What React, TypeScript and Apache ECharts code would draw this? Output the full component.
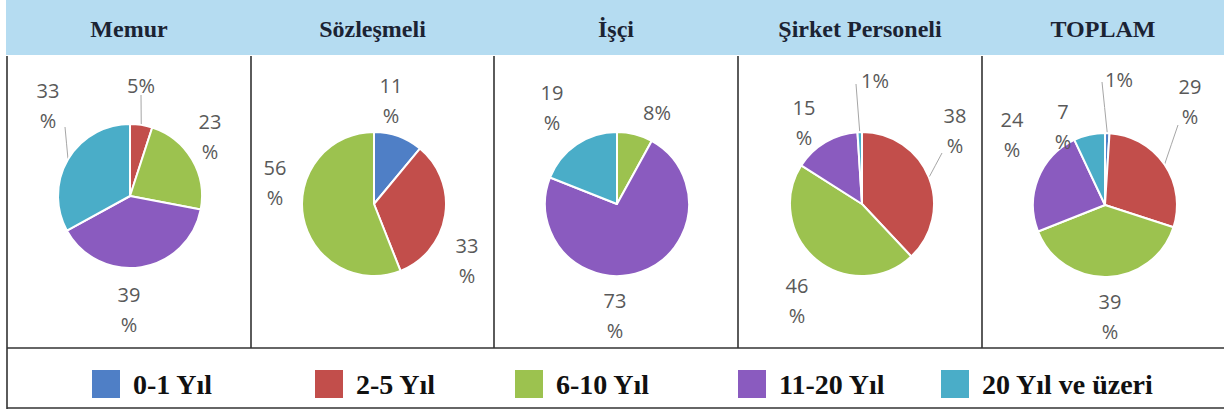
import React, { useEffect, useRef } from 'react';
import * as echarts from 'echarts';

// ---- data ----
const CATEGORIES = ['0-1 Yıl', '2-5 Yıl', '6-10 Yıl', '11-20 Yıl', '20 Yıl ve üzeri'];
const GROUPS = ['Memur', 'Sözleşmeli', 'İşçi', 'Şirket Personeli', 'TOPLAM'];
const MEMUR = [0, 5, 23, 39, 33];
const SOZLESMELI = [11, 33, 56, 0, 0];
const ISCI = [0, 0, 8, 73, 19];
const SIRKET = [0, 38, 46, 15, 1];
const TOPLAM = [1, 29, 39, 24, 7];
const VALUES = [MEMUR, SOZLESMELI, ISCI, SIRKET, TOPLAM];

// ---- styles / layout ----
const COLORS = ['#4f7fc6', '#c24e4b', '#9cc24f', '#8a5bbf', '#4aadc8'];
const CELL_EDGES = [7, 251, 494, 738, 982, 1224];
const PIE_CENTERS: [number, number][] = [[130, 196], [374, 204], [617, 204], [862, 204], [1105, 205]];
const PIE_RADIUS = 72;
const LEGEND_LEFT = [87, 310, 510, 733, 936];

type Place = { dx: number; dy: number; wrap: boolean; lead?: [number, number] } | null;
const LABEL_PLACES: Place[][] = [
  [null, { dx: 11, dy: -111, wrap: false, lead: [11, -101] }, { dx: 80, dy: -60, wrap: true }, { dx: -1, dy: 113, wrap: true }, { dx: -82, dy: -91, wrap: true, lead: [-65, -69] }],
  [{ dx: 17, dy: -104, wrap: true }, { dx: 93, dy: 56, wrap: true }, { dx: -99, dy: -22, wrap: true }, null, null],
  [null, null, { dx: 40, dy: -92, wrap: false }, { dx: -2, dy: 111, wrap: true }, { dx: -65, dy: -97, wrap: true }],
  [null, { dx: 93, dy: -74, wrap: true, lead: [80, -51] }, { dx: -65, dy: 96, wrap: true }, { dx: -58, dy: -82, wrap: true }, { dx: 13, dy: -124, wrap: false, lead: [-6, -120] }],
  [{ dx: 14, dy: -126, wrap: false, lead: [-3, -123] }, { dx: 85, dy: -104, wrap: true, lead: [73, -80] }, { dx: 5, dy: 111, wrap: true }, { dx: -93, dy: -71, wrap: true }, { dx: -42, dy: -79, wrap: true }],
];

const BORDER = '#333333';
const LABEL_FONT = 'Open Sans';
const SERIF = 'Liberation Serif';

function midAngle(vals: number[], cat: number): number {
  const total = vals.reduce((a, b) => a + b, 0);
  let before = 0;
  for (let i = 0; i < cat; i++) before += vals[i];
  return ((before + vals[cat] / 2) / total) * Math.PI * 2;
}

export default function App() {
  const ref = useRef<HTMLDivElement>(null);
  useEffect(() => {
    if (!ref.current) return;
    const chart = echarts.init(ref.current, undefined, { renderer: 'svg' });

    const series = VALUES.map((vals, s) => {
      const catIdx: number[] = [];
      const data: any[] = [];
      vals.forEach((v, c) => {
        if (v <= 0) return;
        catIdx.push(c);
        const pl = LABEL_PLACES[s][c];
        data.push({
          name: CATEGORIES[c],
          value: v,
          itemStyle: { color: COLORS[c] },
          labelLine: { show: !!(pl && pl.lead), lineStyle: { color: '#a6a6a6', width: 1 } },
        });
      });
      const [cx, cy] = PIE_CENTERS[s];
      return {
        type: 'pie',
        name: GROUPS[s],
        center: [cx, cy],
        radius: PIE_RADIUS,
        startAngle: 90,
        clockwise: true,
        avoidLabelOverlap: false,
        itemStyle: { borderColor: '#ffffff', borderWidth: 2 },
        emphasis: { disabled: true },
        label: {
          show: true,
          position: 'outside',
          fontFamily: LABEL_FONT,
          fontSize: 20,
          lineHeight: 30,
          color: '#595959',
          formatter: (p: any) => {
            const pl = LABEL_PLACES[s][catIdx[p.dataIndex]];
            return pl && pl.wrap ? `${p.value}\n%` : `${p.value}%`;
          },
        },
        labelLine: { show: false },
        labelLayout: (p: any) => {
          const cat = catIdx[p.dataIndex];
          const pl = LABEL_PLACES[s][cat];
          if (!pl) return {};
          const res: any = { x: cx + pl.dx, y: cy + pl.dy, align: 'center', verticalAlign: 'middle' };
          if (pl.lead) {
            const a = midAngle(vals, cat);
            const rx = cx + PIE_RADIUS * Math.sin(a);
            const ry = cy - PIE_RADIUS * Math.cos(a);
            const ax = cx + pl.lead[0];
            const ay = cy + pl.lead[1];
            res.labelLinePoints = [[rx, ry], [(rx + ax) / 2, (ry + ay) / 2], [ax, ay]];
          }
          return res;
        },
        data,
      };
    });

    const graphic: any[] = [
      { type: 'rect', z: 0, shape: { x: 6, y: 0, width: 1218, height: 55 }, style: { fill: '#b5dcf1' } },
      { type: 'line', z: 1, shape: { x1: 7, y1: 56, x2: 7, y2: 409 }, style: { stroke: BORDER, lineWidth: 1.6 } },
      { type: 'line', z: 1, shape: { x1: 7, y1: 348, x2: 1224, y2: 348 }, style: { stroke: BORDER, lineWidth: 1.6 } },
      { type: 'line', z: 1, shape: { x1: 7, y1: 408, x2: 1224, y2: 408 }, style: { stroke: BORDER, lineWidth: 1.6 } },
    ];
    for (let i = 1; i < CELL_EDGES.length - 1; i++) {
      graphic.push({ type: 'line', z: 1, shape: { x1: CELL_EDGES[i], y1: 56, x2: CELL_EDGES[i], y2: 348 }, style: { stroke: BORDER, lineWidth: 1.6 } });
    }
    GROUPS.forEach((g, i) => {
      graphic.push({
        type: 'text',
        z: 2,
        x: (CELL_EDGES[i] + CELL_EDGES[i + 1]) / 2,
        y: 29,
        style: { text: g, fontFamily: SERIF, fontWeight: 'bold', fontSize: 24, fill: '#1b2333', align: 'center', verticalAlign: 'middle' },
      });
    });

    const legend = CATEGORIES.map((c, i) => ({
      data: [c],
      left: LEGEND_LEFT[i],
      top: 365,
      icon: 'rect',
      itemWidth: 28,
      itemHeight: 28,
      itemGap: 0,
      selectedMode: false,
      itemStyle: { borderWidth: 0 },
      textStyle: { fontFamily: SERIF, fontWeight: 'bold', fontSize: 28, color: '#111111', padding: [0, 0, 0, 8] },
    }));

    chart.setOption({
      animation: false,
      backgroundColor: '#ffffff',
      graphic,
      legend,
      series,
    });
    return () => chart.dispose();
  }, []);
  return <div ref={ref} style={{ position: 'absolute', left: 0, top: 0, width: 1224, height: 410 }} />;
}
